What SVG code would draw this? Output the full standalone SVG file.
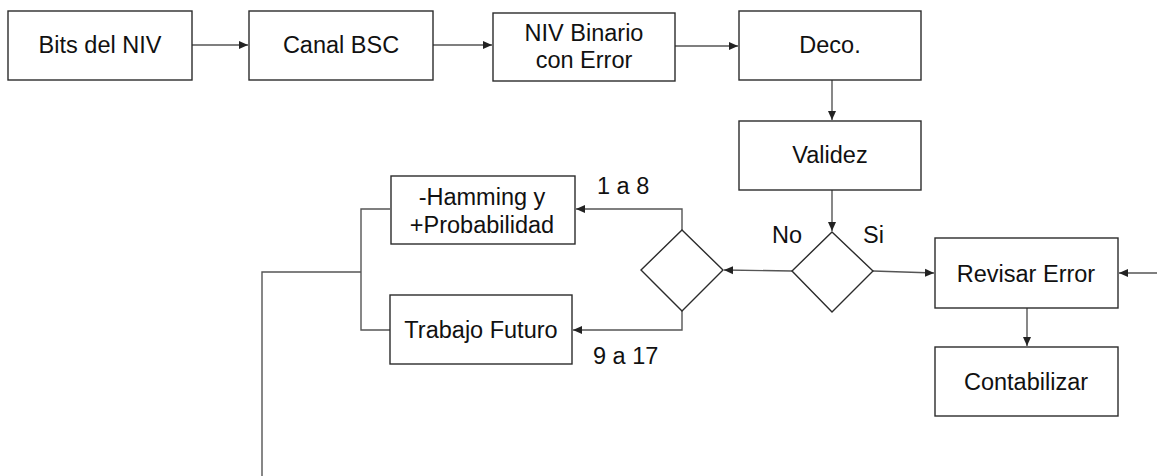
<svg xmlns="http://www.w3.org/2000/svg" width="1157" height="476" viewBox="0 0 1157 476">
<style>
.box{fill:#fff;stroke:#2b2b2b;stroke-width:1.4}
.t{font-family:"Liberation Sans",Arial,sans-serif;font-size:23.5px;fill:#111;text-anchor:middle}
.l{font-family:"Liberation Sans",Arial,sans-serif;font-size:23.5px;fill:#111}
.c{fill:none;stroke:#555;stroke-width:1.4}
</style>
<defs>
<marker id="ah" markerUnits="userSpaceOnUse" markerWidth="10" markerHeight="10" viewBox="0 0 10 10" refX="9" refY="5" orient="auto">
<path d="M0,1 L9,5 L0,9 Z" fill="#222"/>
</marker>
</defs>
<rect width="1157" height="476" fill="#fff"/>
<g id="connectors">
<path class="c" d="M192,45 L248,45" marker-end="url(#ah)"/>
<path class="c" d="M433,45 L492,45" marker-end="url(#ah)"/>
<path class="c" d="M675,46 L738,46" marker-end="url(#ah)"/>
<path class="c" d="M832,80 L832,120" marker-end="url(#ah)"/>
<path class="c" d="M832,190 L832,231" marker-end="url(#ah)"/>
<path class="c" d="M792,271 L724,270" marker-end="url(#ah)"/>
<path class="c" d="M873,271 L934,273" marker-end="url(#ah)"/>
<path class="c" d="M1027,308 L1027,346" marker-end="url(#ah)"/>
<path class="c" d="M1157,273 L1119,273" marker-end="url(#ah)"/>
<path class="c" d="M682,230 L682,209 L576,209" marker-end="url(#ah)"/>
<path class="c" d="M682,311 L682,330 L573,330" marker-end="url(#ah)"/>
<path class="c" d="M390,209 L361,209 L361,330 L390,330"/>
<path class="c" d="M361,272 L262,272 L262,476"/>
</g>
<g id="n-bits"><rect class="box" x="8" y="11" width="184" height="69"/><text class="t" x="100" y="53">Bits del NIV</text></g>
<g id="n-canal"><rect class="box" x="249" y="11" width="184" height="69"/><text class="t" x="341" y="53">Canal BSC</text></g>
<g id="n-niv"><rect class="box" x="493" y="13" width="182" height="68"/><text class="t" x="584" y="41">NIV Binario</text><text class="t" x="584" y="68">con Error</text></g>
<g id="n-deco"><rect class="box" x="739" y="11" width="182" height="69"/><text class="t" x="830" y="53">Deco.</text></g>
<g id="n-validez"><rect class="box" x="739" y="121" width="182" height="69"/><text class="t" x="830" y="163">Validez</text></g>
<g id="n-dec1"><polygon class="box" points="832,232 873,271 832,312 792,271"/></g>
<g id="n-dec2"><polygon class="box" points="682,230 723,270 682,311 641,270"/></g>
<g id="n-hamming"><rect class="box" x="391" y="176" width="184" height="68"/><text class="t" x="482" y="205">-Hamming y</text><text class="t" x="482" y="233">+Probabilidad</text></g>
<g id="n-trabajo"><rect class="box" x="390" y="295" width="182" height="69"/><text class="t" x="481" y="338">Trabajo Futuro</text></g>
<g id="n-revisar"><rect class="box" x="935" y="238" width="183" height="70"/><text class="t" x="1026" y="282">Revisar Error</text></g>
<g id="n-contab"><rect class="box" x="935" y="347" width="183" height="69"/><text class="t" x="1026" y="390">Contabilizar</text></g>
<g id="labels">
<text class="l" x="597" y="194">1 a 8</text>
<text class="l" x="593" y="364">9 a 17</text>
<text class="l" x="772" y="243">No</text>
<text class="l" x="863" y="243">Si</text>
</g>
</svg>
